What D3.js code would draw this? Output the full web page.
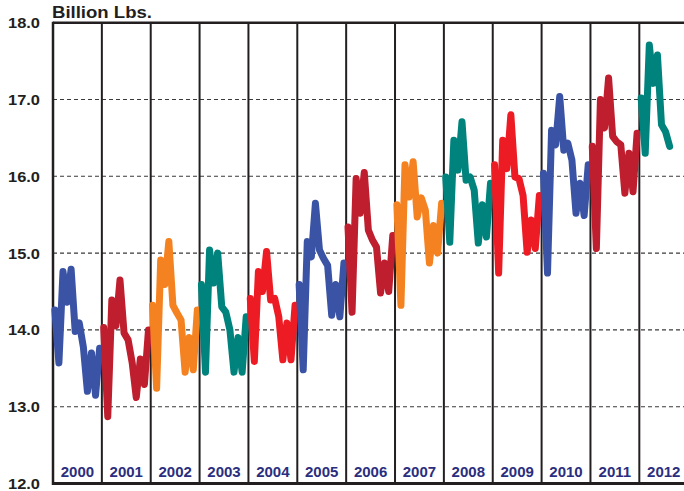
<!DOCTYPE html>
<html>
<head>
<meta charset="utf-8">
<script src="https://cdn.jsdelivr.net/npm/d3@7"></script>
<style>
  html, body { margin: 0; padding: 0; background: #fff; }
  svg { display: block; }
</style>
</head>
<body>
<div class="canvas"></div>
<script>
const width = 684;
const height = 491;

// data (billion lbs, monthly)
const years = ["2000", "2001", "2002", "2003", "2004", "2005", "2006", "2007", "2008", "2009", "2010", "2011", "2012"];
const y2000 = [14.26, 13.57, 14.76, 14.36, 14.79, 13.98, 14.09, 13.78, 13.20, 13.70, 13.15, 13.76];
const y2001 = [14.03, 12.87, 14.39, 14.05, 14.65, 13.96, 13.87, 13.57, 13.12, 13.62, 13.29, 14.00];
const y2002 = [14.32, 13.24, 14.91, 14.59, 15.15, 14.32, 14.22, 14.13, 13.45, 13.90, 13.48, 14.26];
const y2003 = [14.59, 13.45, 15.04, 14.61, 15.00, 14.30, 14.23, 14.00, 13.45, 13.90, 13.45, 14.17];
const y2004 = [14.41, 13.59, 14.76, 14.50, 15.02, 14.39, 14.41, 14.17, 13.61, 14.09, 13.61, 14.32];
const y2005 = [14.59, 13.48, 15.15, 14.95, 15.65, 15.04, 14.93, 14.84, 14.19, 14.59, 14.17, 14.87];
const y2006 = [15.34, 14.23, 15.97, 15.52, 16.05, 15.30, 15.17, 15.08, 14.48, 14.87, 14.50, 15.23];
const y2007 = [15.63, 14.32, 16.15, 15.73, 16.19, 15.47, 15.72, 15.56, 14.87, 15.36, 15.00, 15.65];
const y2008 = [15.99, 15.14, 16.47, 16.08, 16.71, 15.95, 15.99, 15.82, 15.13, 15.63, 15.21, 15.91];
const y2009 = [16.15, 14.74, 16.47, 16.10, 16.80, 15.99, 15.97, 15.75, 15.01, 15.43, 15.06, 15.75];
const y2010 = [16.04, 14.74, 16.60, 16.41, 17.04, 16.34, 16.43, 16.21, 15.52, 15.91, 15.49, 16.15];
const y2011 = [16.39, 15.06, 17.00, 16.63, 17.28, 16.52, 16.45, 16.41, 15.78, 16.30, 15.80, 16.56];
const y2012 = [17.02, 16.30, 17.71, 17.21, 17.58, 16.67, 16.58, 16.39];
const series = [y2000, y2001, y2002, y2003, y2004, y2005, y2006, y2007, y2008, y2009, y2010, y2011, y2012];
const yTicks = [12, 13, 14, 15, 16, 17, 18];

const blue = "#3a53a4", darkRed = "#be1e2d", orange = "#f58220", teal = "#00837c", red = "#ed1c24";
const yearColors = [blue, darkRed, orange, teal, red, blue, darkRed, orange, teal, red, blue, darkRed, teal];

let [mt, ml, mb] = [22.7, 53, 483.5];
const plotRight = ml + 13 * 48.86;

const svg = d3.select(".canvas")
  .append("svg")
  .attr("width", width)
  .attr("height", height);

const x = d3.scaleLinear()
  .domain([0, years.length * 12])
  .range([ml, plotRight]);

const y = d3.scaleLinear()
  .domain([12, 18])
  .range([mb, mt]);

// dashed gridlines
svg.append("g")
  .selectAll("line")
  .data(yTicks.filter(d => d > 12 && d < 18))
  .enter()
  .append("line")
  .attr("x1", ml)
  .attr("x2", width)
  .attr("y1", d => y(d))
  .attr("y2", d => y(d))
  .attr("stroke", "#3a3a3a")
  .attr("stroke-width", 1.1)
  .attr("stroke-dasharray", "4,3");

// year separators
svg.append("g")
  .selectAll("line")
  .data(years.slice(1))
  .enter()
  .append("line")
  .attr("x1", (d, i) => x((i + 1) * 12))
  .attr("x2", (d, i) => x((i + 1) * 12))
  .attr("y1", mt)
  .attr("y2", mb)
  .attr("stroke", "#231f20")
  .attr("stroke-width", 2);

// frame
svg.append("line")
  .attr("x1", ml).attr("x2", width)
  .attr("y1", mt).attr("y2", mt)
  .attr("stroke", "#231f20").attr("stroke-width", 2.5);
svg.append("line")
  .attr("x1", ml).attr("x2", ml)
  .attr("y1", mt - 1).attr("y2", mb + 1.5)
  .attr("stroke", "#231f20").attr("stroke-width", 2.5);
svg.append("line")
  .attr("x1", ml - 1).attr("x2", width)
  .attr("y1", mb).attr("y2", mb)
  .attr("stroke", "#231f20").attr("stroke-width", 3);

// monthly lines, one per year
const line = d3.line()
  .x(d => x(d.t))
  .y(d => y(d.v));

svg.append("g")
  .selectAll("path")
  .data(series)
  .enter()
  .append("path")
  .attr("d", (vals, yi) => line(vals.map((v, m) => ({ t: yi * 12 + m + 0.45, v: v }))))
  .attr("fill", "none")
  .attr("stroke", (d, i) => yearColors[i])
  .attr("stroke-width", 7)
  .attr("stroke-linejoin", "round")
  .attr("stroke-linecap", "round");

// y tick labels
svg.append("g")
  .selectAll("text")
  .data(yTicks)
  .enter()
  .append("text")
  .attr("x", 40)
  .attr("y", d => y(d) + 5.5)
  .attr("text-anchor", "end")
  .attr("font-family", "Liberation Sans, Arial, sans-serif")
  .attr("font-weight", "bold")
  .attr("font-size", 14.5)
  .attr("fill", "#231f20")
  .attr("textLength", 32)
  .attr("lengthAdjust", "spacingAndGlyphs")
  .text(d => d3.format(".1f")(d));

// year labels
svg.append("g")
  .selectAll("text")
  .data(years)
  .enter()
  .append("text")
  .attr("x", (d, i) => x(i * 12 + 6))
  .attr("y", 477)
  .attr("text-anchor", "middle")
  .attr("font-family", "Liberation Sans, Arial, sans-serif")
  .attr("font-weight", "bold")
  .attr("font-size", 15)
  .attr("fill", "#2b2e7e")
  .text(d => d);

svg.append("text")
  .attr("x", 52)
  .attr("y", 18.3)
  .attr("font-family", "Liberation Sans, Arial, sans-serif")
  .attr("font-weight", "bold")
  .attr("font-size", 16)
  .attr("fill", "#231f20")
  .attr("textLength", 100)
  .attr("lengthAdjust", "spacingAndGlyphs")
  .text("Billion Lbs.");
</script>
</body>
</html>
